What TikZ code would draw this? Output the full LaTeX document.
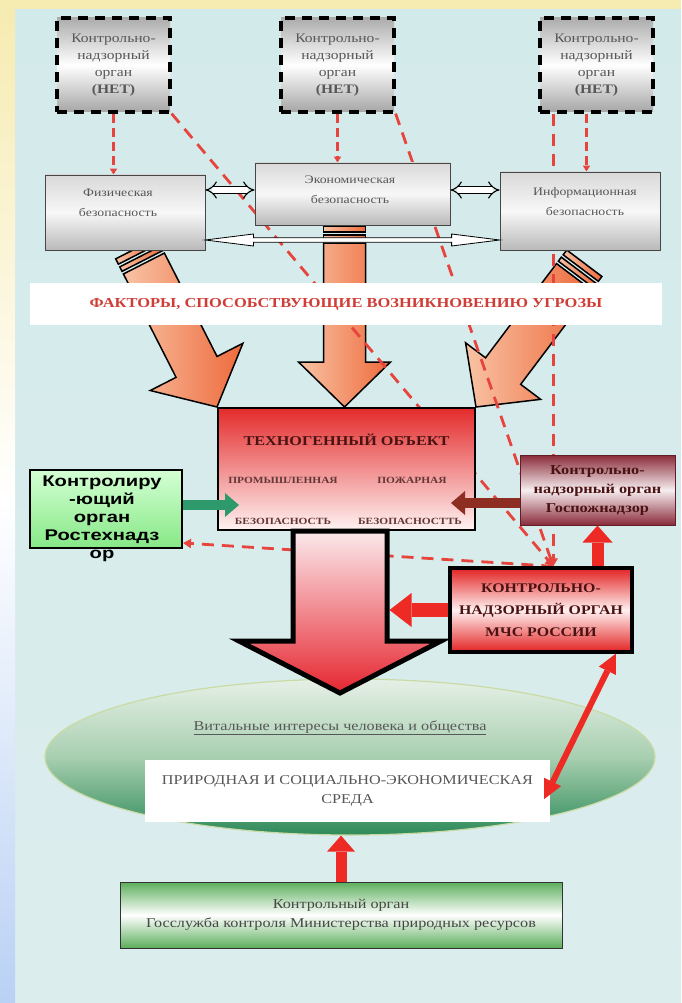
\documentclass[tikz,border=0pt]{standalone}
\usepackage{fontspec}
\setmainfont[FakeStretch=1.2]{Liberation Serif}
\newfontfamily\sansbold[FakeStretch=1.3]{Liberation Sans}
\usetikzlibrary{arrows.meta,calc,shapes.geometric}

\definecolor{stripY}{HTML}{F6EBB0}
\definecolor{stripB}{HTML}{B9D1F4}
\definecolor{panelT}{HTML}{D3EAEB}
\definecolor{panelB}{HTML}{DCEDED}
\definecolor{dred}{HTML}{E6443C}
\definecolor{txtgray}{HTML}{575757}
\definecolor{orL}{HTML}{F8C3A4}
\definecolor{orR}{HTML}{EE6A3C}
\definecolor{objR}{HTML}{E42B2B}
\definecolor{objW}{HTML}{FFF3F3}
\definecolor{maroontxt}{HTML}{4A1212}
\definecolor{gboxT}{HTML}{D4FFD4}
\definecolor{gboxB}{HTML}{86E886}
\definecolor{garrow}{HTML}{2E9A6C}
\definecolor{gosE}{HTML}{8A2B3A}
\definecolor{brownarr}{HTML}{8E2E22}
\definecolor{mcsR}{HTML}{E32222}
\definecolor{mcsW}{HTML}{FFF0F0}
\definecolor{redarr}{HTML}{EE2A24}
\definecolor{ellT}{HTML}{E6F0E6}
\definecolor{ellM}{HTML}{A8CFB0}
\definecolor{ellB}{HTML}{2E8A5A}
\definecolor{ellO}{HTML}{C9DBA4}
\definecolor{botG}{HTML}{5CAE5C}
\definecolor{bigT}{HTML}{FBE9EC}
\definecolor{bigB}{HTML}{E62630}

\pgfdeclarelayer{back}
\pgfdeclarelayer{mid}
\pgfsetlayers{back,mid,main}

\tikzset{
  nobox/.style={draw=black, line width=3.2pt, dash pattern=on 10pt off 7pt,
    top color=gray!65, bottom color=gray!70, middle color=white,
    minimum width=113pt, minimum height=94pt, inner sep=0pt, align=center,
    text=txtgray, font=\fontsize{13}{17}\selectfont},
  secbox/.style={draw=gray!55!black, line width=0.8pt,
    top color=gray!30, bottom color=gray!55, middle color=gray!6,
    inner sep=0pt},
  sectext/.style={align=center, text=txtgray, font=\fontsize{11.5}{20}\selectfont},
  banner/.style={fill=white, minimum width=632pt, minimum height=42pt, inner sep=0pt,
    text=dred!90!black, font=\bfseries\fontsize{13.7}{16}\selectfont},
  objbox/.style={draw=black, line width=2pt, top color=objR, bottom color=objW,
    minimum width=257pt, minimum height=122pt, inner sep=0pt},
  objtitle/.style={text=maroontxt, font=\bfseries\fontsize{13.5}{16}\selectfont},
  objlbl/.style={text=maroontxt!85, font=\bfseries\fontsize{9.5}{11}\selectfont},
  gbox/.style={draw=black, line width=2pt, top color=gboxT, bottom color=gboxB,
    minimum width=152pt, minimum height=78pt, inner sep=0pt},
  gtext/.style={align=center, text=black, font=\sansbold\bfseries\fontsize{15.5}{18}\selectfont},
  gosbox/.style={draw=gosE!70!black, line width=1pt, top color=gosE, bottom color=gosE,
    middle color=white!92!gosE, minimum width=155pt, minimum height=70pt, inner sep=0pt,
    align=center, text=maroontxt, font=\bfseries\fontsize{13.6}{19}\selectfont},
  mcsbox/.style={draw=black, line width=3.5pt, top color=mcsR, bottom color=mcsR,
    middle color=mcsW, minimum width=182pt, minimum height=84pt, inner sep=0pt,
    align=center, text=maroontxt, font=\bfseries\fontsize{13.2}{22}\selectfont},
  ellnode/.style={ellipse, draw=ellO, line width=1.2pt, top color=ellT, bottom color=ellB,
    middle color=ellM, minimum width=610pt, minimum height=156pt, inner sep=0pt},
  envbox/.style={fill=white, minimum width=405pt, minimum height=62pt, inner sep=0pt,
    align=center, text=txtgray, font=\fontsize{13.5}{19}\selectfont},
  botbox/.style={draw=gray!40!black, line width=1pt, top color=botG, bottom color=botG,
    middle color=white, minimum width=442pt, minimum height=66pt, inner sep=0pt,
    align=center, text=txtgray!80!black, font=\fontsize{13.5}{19}\selectfont},
  vital/.style={text=txtgray, font=\fontsize{13.5}{16}\selectfont},
  dline/.style={draw=dred, line width=2.8pt, dash pattern=on 12pt off 8pt,
    -{Triangle[length=8pt,width=9pt]}},
  sline/.style={draw=dred, line width=2.4pt, dash pattern=on 9pt off 5pt,
    -{Triangle[length=6pt,width=7pt]}},
  hollow/.style={draw=black, line width=1.1pt, double=white, double distance=5pt,
    {Implies}-{Implies}},
  spindle/.style={draw=black, line width=0.8pt, fill=white, line join=miter},
  farrow/.style={draw=black, line width=1.5pt, left color=orL, right color=orR, line join=miter},
  bigarr/.style={draw=black, line width=5pt, line join=miter, top color=bigT, bottom color=bigB},
  blk/.style args={#1/#2/#3/#4}{draw=#1, line width=#2,
    -{Triangle[length=#3,width=#4,line width=0pt]}},
  % factor arrow: tip at the origin, pointing along +x; args length/shaft/head half widths
  pics/factor/.style args={#1/#2/#3}{code={
    \draw[farrow] (0,0) -- (-45,#3) -- (-45,#2) -- (-#1+17,#2) -- (-#1+17,-#2)
      -- (-45,-#2) -- (-45,-#3) -- cycle;
    \draw[farrow] (-#1,-#2) -- (-#1+6,-#2) -- (-#1+6,#2) -- (-#1,#2) -- cycle;
    \draw[farrow] (-#1+9,-#2) -- (-#1+14,-#2) -- (-#1+14,#2) -- (-#1+9,#2) -- cycle;
  }},
}

\begin{document}
\begin{tikzpicture}[x=1pt,y=-1pt]
\useasboundingbox (0,0) rectangle (681,1003);

% frame and panel
\begin{pgfonlayer}{back}
\shade[top color=panelT, bottom color=panelB] (15,9) rectangle (681,1003);
\fill[stripY] (0,0) rectangle (681,9);
\shade[top color=stripY, bottom color=stripB, middle color=white] (0,0) rectangle (15,1003);
\end{pgfonlayer}

% supervisory bodies that are missing
\node[nobox] (b1) at (113.5,65) {Контрольно-\\надзорный\\орган\\\textbf{(НЕТ)}};
\node[nobox] (b2) at (337.5,65) {Контрольно-\\надзорный\\орган\\\textbf{(НЕТ)}};
\node[nobox] (b3) at (596.5,65) {Контрольно-\\надзорный\\орган\\\textbf{(НЕТ)}};

% kinds of security
\node[secbox, minimum width=160pt, minimum height=75pt] (phys) at (125,212.5) {};
\node[sectext] (physT) at (118,203) {Физическая\\безопасность};
\node[secbox, minimum width=195pt, minimum height=62pt] (econ) at (352.5,194) {};
\node[sectext] (econT) at (350,190) {Экономическая\\безопасность};
\node[secbox, minimum width=160pt, minimum height=78pt] (info) at (580,211) {};
\node[sectext] (infoT) at (585,202) {Информационная\\безопасность};

\coordinate (ya) at (0,190);
\draw[hollow] (phys.east |- ya) -- (econ.west |- ya);
\draw[hollow] (econ.east |- ya) -- (info.west |- ya);

\coordinate (yb) at (0,240);
\coordinate (sL) at (phys.east |- yb);
\coordinate (sR) at (info.west |- yb);
\draw[spindle] (sL) -- ($(sL)+(48,-6)$) -- ($(sL)+(48,-2.3)$) -- ($(sR)+(-48,-2.3)$)
  -- ($(sR)+(-48,-6)$) -- (sR) -- ($(sR)+(-48,6)$) -- ($(sR)+(-48,2.3)$)
  -- ($(sL)+(48,2.3)$) -- ($(sL)+(48,6)$) -- cycle;

% threat factors banner
\node[banner] (fac) at (346,304) {ФАКТОРЫ, СПОСОБСТВУЮЩИЕ ВОЗНИКНОВЕНИЮ УГРОЗЫ};

% technogenic object
\node[objbox] (obj) at (346.5,469) {};
\node[objtitle] (objt) at (346.5,440) {ТЕХНОГЕННЫЙ ОБЪЕКТ};
\node[objlbl] (ol1) at (283,480) {ПРОМЫШЛЕННАЯ};
\node[objlbl] (ol2) at (412,480) {ПОЖАРНАЯ};
\node[objlbl] (ol3) at (283,521) {БЕЗОПАСНОСТЬ};
\node[objlbl] (ol4) at (410,521) {БЕЗОПАСНОСТТЬ};

% factor arrows into the object
\begin{pgfonlayer}{back}
\pic[rotate=-63] at (obj.north west) {factor=178/23/52};
\pic[rotate=-90] at ([xshift=-2pt]obj.north) {factor=181/21/46};
\pic[rotate=-127] at (obj.north east) {factor=180/22/47};
\end{pgfonlayer}

% supervisory bodies
\node[gbox] (gbox) at (106,509) {};
\node[gtext] (gtxt) at (102,518.5) {Контролиру\\-ющий\\орган\\Ростехнадз\\ор};
\node[gosbox] (gos) at (597.5,490) {Контрольно-\\надзорный орган\\Госпожнадзор};
\node[mcsbox] (mcs) at (541,610) {КОНТРОЛЬНО-\\НАДЗОРНЫЙ ОРГАН\\МЧС РОССИИ};

% environment
\node[ellnode] (ell) at (350,757) {};
\node[vital] (vit) at (340,728) {\underline{Витальные интересы человека и общества}};
\node[envbox] (env) at (347.5,791) {ПРИРОДНАЯ И СОЦИАЛЬНО-ЭКОНОМИЧЕСКАЯ\\СРЕДА};
\node[botbox] (bot) at (341,915) {Контрольный орган\\Госслужба контроля Министерства природных ресурсов};

% consequence arrow from the object
\coordinate (dtop) at ($(obj.south)+(-6.5,0)$);
\coordinate (dtip) at ($(dtop)+(0,162)$);
\coordinate (dR) at ($(dtop)+(49.5,0)$);
\draw[bigarr] ($(dtop)+(-47,0)$) -- ($(dtop)+(-47,110)$) -- ($(dtop)+(-101,110)$) -- (dtip)
  -- ($(dtop)+(101,110)$) -- ($(dtop)+(47,110)$) -- ($(dtop)+(47,0)$) -- cycle;

% control arrows
\coordinate (gstart) at ([yshift=4pt]gbox.east);
\coordinate (objw) at ([xshift=22pt]obj.west);
\draw[blk=garrow/10pt/14pt/24pt] (gstart) -- (objw |- gstart);
\coordinate (bstart) at ([yshift=-13pt]gos.west);
\coordinate (obje) at ([xshift=-25pt]obj.east);
\draw[blk=brownarr/10pt/14pt/24pt] (bstart) -- (obje |- bstart);
\draw[blk=redarr/14pt/22pt/34pt] (mcs.west) -- (mcs.west -| dR);
\draw[blk=redarr/12pt/17pt/30pt] (gos.south |- mcs.north) -- (gos.south);
\draw[draw=redarr, line width=6pt,
  {Triangle[length=19pt,width=19pt,line width=0pt]}-{Triangle[length=19pt,width=19pt,line width=0pt]}]
  ([xshift=-18pt]mcs.south east) -- ([xshift=-6pt,yshift=-8pt]env.east);
\draw[blk=redarr/11pt/16pt/28pt] (bot.north) -- (bot.north |- ell.south);

% dashed lines of (missing) supervision
\coordinate (conv) at ($(mcs.north west)+(105,0)$);
\coordinate (c3) at ([xshift=-10pt]b3.south);
\coordinate (gtip) at ([yshift=6pt]gbox.south east);
\begin{pgfonlayer}{mid}
\draw[sline] (b1.south) -- (b1.south |- phys.north);
\draw[sline] (b2.south) -- (b2.south |- econ.north);
\draw[sline] (c3) -- (c3 |- info.north);
\draw[dline] (b1.south east) -- (conv);
\draw[dline] (b2.south east) -- (conv);
\draw[dline] (b3.south -| conv) -- (conv);
\draw[dline] (conv) -- (gtip);
\end{pgfonlayer}
\end{tikzpicture}
\end{document}
